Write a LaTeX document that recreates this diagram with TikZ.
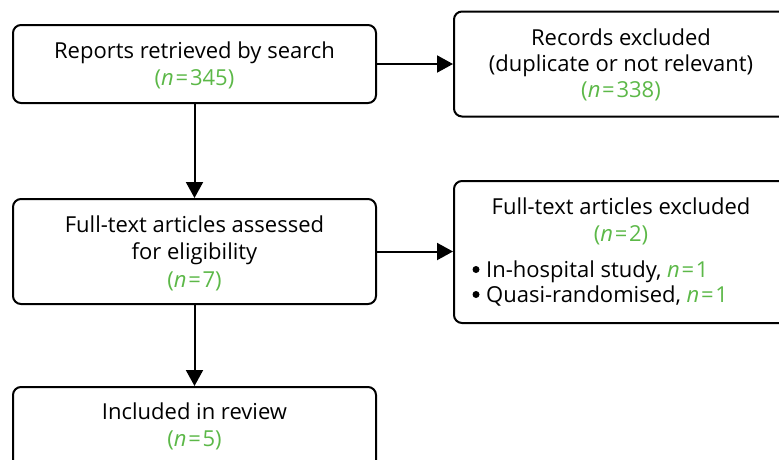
\documentclass[tikz,border=0pt]{standalone}
\usepackage{fontspec}
\setmainfont{Open Sans}
\usetikzlibrary{arrows.meta}
\definecolor{ngreen}{RGB}{92,184,72}
\newcommand{\nval}[1]{\textcolor{ngreen}{\textit{n}\hspace{0.08em}=\hspace{0.08em}#1}}
\begin{document}
\begin{tikzpicture}[x=1pt,y=-1pt,
  box/.style={draw, line width=2pt, rounded corners=8pt, inner sep=0pt},
  lbl/.style={anchor=base, font=\fontsize{22}{27}\selectfont, inner sep=0pt},
  lblw/.style={lbl, anchor=base west},
  bul/.style={circle, fill, minimum size=7pt, inner sep=0pt},
  arr/.style={line width=2pt, -{Triangle[width=17pt,length=16pt]}}]
\useasboundingbox (0,0) rectangle (779,459);
\clip (0,0) rectangle (779,459);
% boxes
\node[box, minimum width=363pt, minimum height=78pt]  (b1) at (194.5,64) {};
\node[box, minimum width=334pt, minimum height=105pt] (b2) at (621,64) {};
\node[box, minimum width=363pt, minimum height=105pt] (b3) at (194.5,251.5) {};
\node[box, minimum width=334pt, minimum height=142pt] (b4) at (621,252) {};
\node[box, minimum width=363pt, minimum height=105pt] (b5) at (194.5,439.5) {};
% texts
\node[lbl] (t1a) at (194.5,58) {Reports retrieved by search};
\node[lbl] (t1b) at (194.5,85) {\textcolor{ngreen}{(\nval{345})}};
\node[lbl] (t2a) at (621,45) {Records excluded};
\node[lbl] (t2b) at (621,71) {(duplicate or not relevant)};
\node[lbl] (t2c) at (621,97) {\textcolor{ngreen}{(\nval{338})}};
\node[lbl] (t3a) at (194.5,232) {Full-text articles assessed};
\node[lbl] (t3b) at (194.5,259) {for eligibility};
\node[lbl] (t3c) at (194.5,287) {\textcolor{ngreen}{(\nval{7})}};
\node[lbl] (t4a) at (621,214) {Full-text articles excluded};
\node[lbl] (t4b) at (621,241.5) {\textcolor{ngreen}{(\nval{2})}};
\node[bul] (bu1) at (476,269.5) {};
\node[bul] (bu2) at (476,294.5) {};
\node[lblw] (t4c) at (486,277) {In-hospital study, \nval{1}};
\node[lblw] (t4d) at (486,302) {Quasi-randomised, \nval{1}};
\node[lbl] (t5a) at (194.5,419) {Included in review};
\node[lbl] (t5b) at (194.5,446) {\textcolor{ngreen}{(\nval{5})}};
% connectors
\draw[arr] (b1.east) -- (b2.west |- b1.east);
\draw[arr] (b1.south) -- (b3.north);
\draw[arr] (b3.east) -- (b4.west |- b3.east);
\draw[arr] (b3.south) -- (b5.north);
\end{tikzpicture}
\end{document}
